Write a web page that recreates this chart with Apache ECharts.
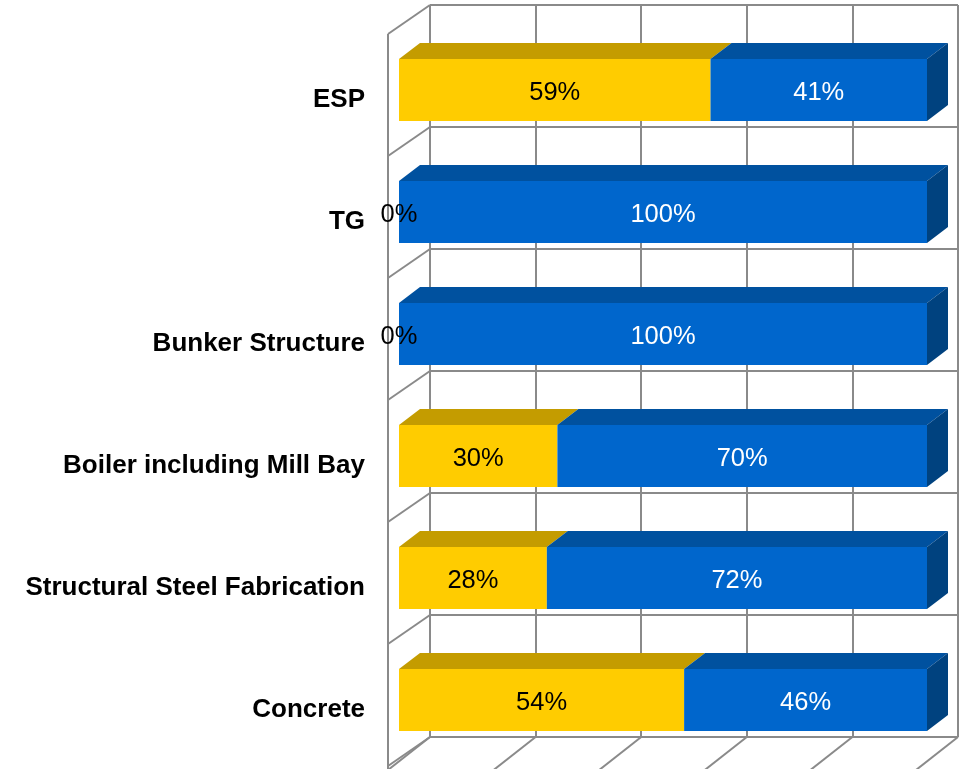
<!DOCTYPE html>
<html>
<head>
<meta charset="utf-8">
<script src="https://cdn.jsdelivr.net/npm/echarts@6/dist/echarts.min.js"></script>
<style>
  html, body { margin: 0; padding: 0; background: #fff; }
  #chart { width: 964px; height: 769px; }
</style>
</head>
<body>
<div id="chart"></div>
<script>
// Work packages, top to bottom
const categories = ['ESP', 'TG', 'Bunker Structure', 'Boiler including Mill Bay', 'Structural Steel Fabrication', 'Concrete'];
// Share of each package, in percent
const completed = [59, 0, 0, 30, 28, 54];
const balance = [41, 100, 100, 70, 72, 46];
// Value-axis ticks
const xTicks = [0, 20, 40, 60, 80, 100];

const FONT = "'Liberation Sans', Arial, Helvetica, sans-serif";
const GRID_COLOR = '#8a8a8a';

// 3D depth offsets (px) relative to the back wall plane
const WALL_DX = -42, WALL_DY = 29;     // front edge of the side wall
const FLOOR_DY = 33;                   // front edge of the floor
const BAR_FRONT_DX = -31, BAR_FRONT_DY = 24;
const BAR_BACK_DX = -10, BAR_BACK_DY = 8;
const BAR_HALF = 31;

const colors = {
  done: { front: '#FFCC00', top: '#C49C00', side: '#A88500', text: '#000000' },
  left: { front: '#0066CC', top: '#00519F', side: '#00427F', text: '#FFFFFF' }
};

const chart = echarts.init(document.getElementById('chart'), null, { renderer: 'canvas' });

function renderWalls(params, api) {
  const n = categories.length;
  const p0 = api.coord([0, 0]);
  const band = api.size([0, 1])[1];
  const top = p0[1] - band / 2;
  const bottom = top + band * n;
  const x0 = p0[0];
  const style = { stroke: GRID_COLOR, lineWidth: 2, fill: null };
  const children = [];
  for (let i = 0; i <= n; i++) {
    const y = top + i * band;
    children.push({ type: 'line', shape: { x1: x0, y1: y, x2: x0 + WALL_DX, y2: y + WALL_DY }, style });
  }
  children.push({ type: 'line', shape: { x1: x0 + WALL_DX, y1: top + WALL_DY, x2: x0 + WALL_DX, y2: bottom + FLOOR_DY + 4 }, style });
  xTicks.forEach(t => {
    const x = api.coord([t, 0])[0];
    children.push({ type: 'line', shape: { x1: x, y1: bottom, x2: x + WALL_DX, y2: bottom + FLOOR_DY }, style });
  });
  // category names along the front of the side wall
  categories.forEach((c, i) => {
    const y = top + (i + 0.5) * band + WALL_DY + 5;
    children.push({
      type: 'text',
      style: {
        text: c, x: x0 + WALL_DX - 23, y,
        align: 'right', verticalAlign: 'middle',
        font: 'bold 26px ' + FONT, fill: '#000'
      }
    });
  });
  return { type: 'group', children };
}

function box(x1, x2, yc, pal, withSide) {
  const fy1 = yc + BAR_FRONT_DY - BAR_HALF, fy2 = yc + BAR_FRONT_DY + BAR_HALF;
  const by1 = yc + BAR_BACK_DY - BAR_HALF, by2 = yc + BAR_BACK_DY + BAR_HALF;
  const fx1 = x1 + BAR_FRONT_DX, fx2 = x2 + BAR_FRONT_DX;
  const bx1 = x1 + BAR_BACK_DX, bx2 = x2 + BAR_BACK_DX;
  const parts = [];
  parts.push({ type: 'polygon', shape: { points: [[fx1, fy1], [fx2, fy1], [bx2, by1], [bx1, by1]] }, style: { fill: pal.top } });
  if (withSide) {
    parts.push({ type: 'polygon', shape: { points: [[fx2, fy1], [bx2, by1], [bx2, by2], [fx2, fy2]] }, style: { fill: pal.side } });
  }
  parts.push({ type: 'rect', shape: { x: fx1, y: fy1, width: fx2 - fx1, height: fy2 - fy1 }, style: { fill: pal.front } });
  return parts;
}

function renderBars(params, api) {
  const cat = api.value(0);
  const a = api.value(1);
  const b = api.value(2);
  const p0 = api.coord([0, cat]);
  const pa = api.coord([a, cat]);
  const pb = api.coord([a + b, cat]);
  const yc = p0[1];
  const ly = yc + BAR_FRONT_DY + 3;
  let children = [];
  if (a > 0) children = children.concat(box(p0[0], pa[0], yc, colors.done, b <= 0));
  if (b > 0) children = children.concat(box(pa[0], pb[0], yc, colors.left, true));
  const label = (v, xL, xR, pal) => ({
    type: 'text',
    style: {
      text: v + '%', x: (xL + xR) / 2 + BAR_FRONT_DX, y: ly,
      align: 'center', verticalAlign: 'middle',
      font: '25.5px ' + FONT, fill: pal.text
    }
  });
  children.push(label(a, p0[0], pa[0], colors.done));
  children.push(label(b, pa[0], pb[0], colors.left));
  return { type: 'group', children };
}

const barData = categories.map((c, i) => [i, completed[i], balance[i]]);

chart.setOption({
  animation: false,
  grid: { left: 430, top: 5, width: 528, height: 732 },
  xAxis: {
    type: 'value', min: 0, max: 100, interval: 20,
    axisLine: { show: false }, axisTick: { show: false }, axisLabel: { show: false },
    splitLine: { show: true, lineStyle: { color: GRID_COLOR, width: 2 } }
  },
  yAxis: {
    type: 'category', data: categories, inverse: true,
    axisLine: { show: false }, axisTick: { show: false }, axisLabel: { show: false },
    splitLine: { show: true, lineStyle: { color: GRID_COLOR, width: 2 } }
  },
  series: [
    {
      type: 'custom', name: 'walls', clip: false, silent: true,
      data: [[0, 0]], encode: { x: 0, y: 1 },
      renderItem: renderWalls, z: 1
    },
    {
      type: 'custom', name: 'progress', clip: false,
      data: barData, encode: { y: 0, x: [1, 2] },
      renderItem: renderBars, z: 2
    }
  ]
});
</script>
</body>
</html>
